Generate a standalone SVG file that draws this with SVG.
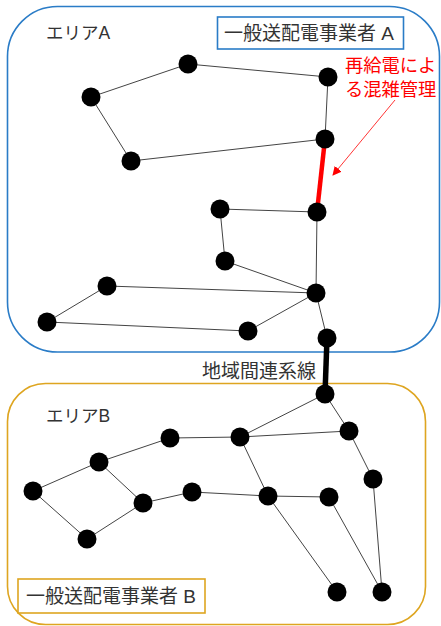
<svg xmlns="http://www.w3.org/2000/svg" width="441" height="626" viewBox="0 0 441 626">
<defs>
<style>
.area{fill:none;stroke-width:1.6}
.lbl{font-family:"Liberation Sans","Noto Sans CJK JP",sans-serif;font-size:19px;fill:#333}
.ar{font-family:"Liberation Sans","Noto Sans CJK JP",sans-serif;font-size:17.5px;fill:#333}
.red{font-family:"Liberation Sans","Noto Sans CJK JP",sans-serif;font-size:18.3px;fill:#ff0000}
.e{stroke:#444;stroke-width:1;fill:none}
.n{fill:#000}
</style>
<marker id="ah" viewBox="0 0 10 10" refX="9" refY="5" markerWidth="9" markerHeight="9" orient="auto" markerUnits="userSpaceOnUse">
<path d="M0,0 L10,5 L0,10 z" fill="#ff0000"/>
</marker>
</defs>
<rect width="441" height="626" fill="#fff"/>
<g id="areaA">
<rect class="area" x="7.5" y="6.5" width="432" height="345.5" rx="50" ry="50" stroke="#2a7cc7"/>
<text class="ar" x="46" y="39">エリアA</text>
</g>
<g id="operatorA">
<rect x="217.5" y="17" width="186" height="32" fill="#fff" stroke="#2a7cc7" stroke-width="1.6"/>
<text class="lbl" x="309" y="40" text-anchor="middle">一般送配電事業者 A</text>
</g>
<g id="areaB">
<rect class="area" x="7.5" y="383.5" width="418" height="241" rx="38" ry="38" stroke="#dea520"/>
<text class="ar" x="46" y="422">エリアB</text>
</g>
<g id="operatorB">
<rect x="18" y="579" width="187" height="34" fill="#fff" stroke="#dea520" stroke-width="1.6"/>
<text class="lbl" x="111" y="603" text-anchor="middle">一般送配電事業者 B</text>
</g>
<g id="connectors">
<line class="e" x1="91" y1="97" x2="188" y2="64"/>
<line class="e" x1="188" y1="64" x2="328" y2="77"/>
<line class="e" x1="328" y1="77" x2="325" y2="139"/>
<line class="e" x1="91" y1="97" x2="131" y2="161"/>
<line class="e" x1="131" y1="161" x2="325" y2="139"/>
<line class="e" x1="220" y1="209" x2="317" y2="212"/>
<line class="e" x1="220" y1="209" x2="225" y2="261"/>
<line class="e" x1="225" y1="261" x2="316" y2="293"/>
<line class="e" x1="317" y1="212" x2="316" y2="293"/>
<line class="e" x1="107" y1="286" x2="316" y2="293"/>
<line class="e" x1="107" y1="286" x2="47" y2="322"/>
<line class="e" x1="47" y1="322" x2="248" y2="331"/>
<line class="e" x1="248" y1="331" x2="316" y2="293"/>
<line class="e" x1="316" y1="293" x2="327" y2="338"/>
<line x1="325" y1="139" x2="317" y2="212" stroke="#ff0000" stroke-width="4.5"/>
<line x1="327" y1="338" x2="325" y2="394" stroke="#000" stroke-width="5.5"/>
<line x1="395" y1="100" x2="333" y2="175" stroke="#ff0000" stroke-width="0.8" marker-end="url(#ah)"/>
<line class="e" x1="325" y1="394" x2="240" y2="437"/>
<line class="e" x1="325" y1="394" x2="349" y2="431"/>
<line class="e" x1="240" y1="437" x2="349" y2="431"/>
<line class="e" x1="170" y1="438" x2="240" y2="437"/>
<line class="e" x1="99" y1="462" x2="170" y2="438"/>
<line class="e" x1="33" y1="491" x2="99" y2="462"/>
<line class="e" x1="99" y1="462" x2="143" y2="503"/>
<line class="e" x1="33" y1="491" x2="87" y2="539"/>
<line class="e" x1="87" y1="539" x2="143" y2="503"/>
<line class="e" x1="143" y1="503" x2="192" y2="492"/>
<line class="e" x1="192" y1="492" x2="268" y2="496"/>
<line class="e" x1="240" y1="437" x2="268" y2="496"/>
<line class="e" x1="268" y1="496" x2="329" y2="497"/>
<line class="e" x1="268" y1="496" x2="337" y2="592"/>
<line class="e" x1="329" y1="497" x2="382" y2="592"/>
<line class="e" x1="349" y1="431" x2="373" y2="479"/>
<line class="e" x1="373" y1="479" x2="382" y2="592"/>
</g>
<g id="labels">
<text class="red" x="345" y="72">再給電によ</text>
<text class="red" x="345" y="96">る混雑管理</text>
<text class="lbl" x="202" y="378">地域間連系線</text>
</g>
<g id="nodesA">
<circle id="a1" class="n" cx="188" cy="64" r="9.5"/>
<circle id="a2" class="n" cx="328" cy="77" r="9.5"/>
<circle id="a3" class="n" cx="91" cy="97" r="9.5"/>
<circle id="a4" class="n" cx="325" cy="139" r="9.5"/>
<circle id="a5" class="n" cx="131" cy="161" r="9.5"/>
<circle id="a6" class="n" cx="220" cy="209" r="9.5"/>
<circle id="a7" class="n" cx="317" cy="212" r="9.5"/>
<circle id="a8" class="n" cx="225" cy="261" r="9.5"/>
<circle id="a9" class="n" cx="107" cy="286" r="9.5"/>
<circle id="a10" class="n" cx="316" cy="293" r="9.5"/>
<circle id="a11" class="n" cx="47" cy="322" r="9.5"/>
<circle id="a12" class="n" cx="248" cy="331" r="9.5"/>
<circle id="a13" class="n" cx="327" cy="338" r="9.5"/>
</g>
<g id="nodesB">
<circle id="b1" class="n" cx="325" cy="394" r="9.5"/>
<circle id="b2" class="n" cx="349" cy="431" r="9.5"/>
<circle id="b3" class="n" cx="170" cy="438" r="9.5"/>
<circle id="b4" class="n" cx="240" cy="437" r="9.5"/>
<circle id="b5" class="n" cx="99" cy="462" r="9.5"/>
<circle id="b6" class="n" cx="33" cy="491" r="9.5"/>
<circle id="b7" class="n" cx="373" cy="479" r="9.5"/>
<circle id="b8" class="n" cx="192" cy="492" r="9.5"/>
<circle id="b9" class="n" cx="268" cy="496" r="9.5"/>
<circle id="b10" class="n" cx="329" cy="497" r="9.5"/>
<circle id="b11" class="n" cx="143" cy="503" r="9.5"/>
<circle id="b12" class="n" cx="87" cy="539" r="9.5"/>
<circle id="b13" class="n" cx="337" cy="592" r="9.5"/>
<circle id="b14" class="n" cx="382" cy="592" r="9.5"/>
</g>
</svg>
